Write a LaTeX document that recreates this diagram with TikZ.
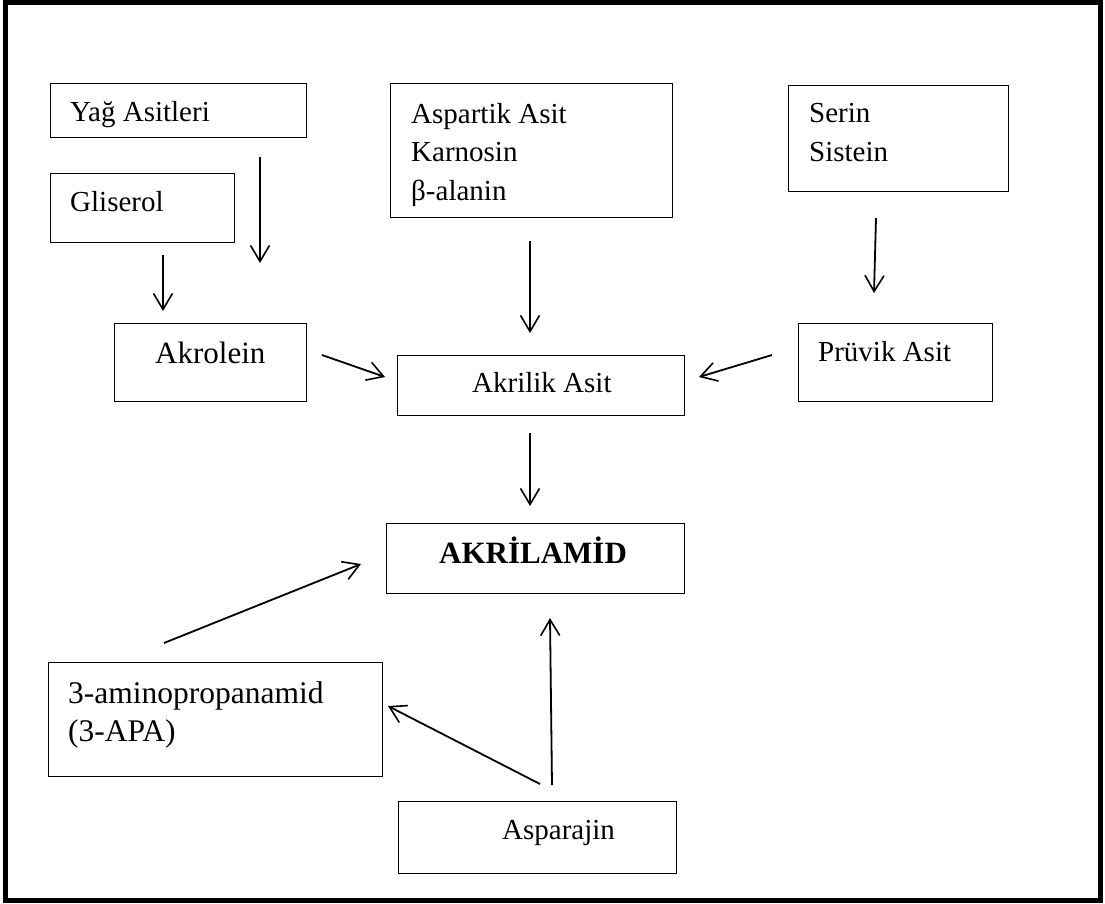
\documentclass[tikz,border=0pt]{standalone}
\usepackage{fontspec}
\setmainfont{Liberation Serif}
\usetikzlibrary{arrows.meta}

\begin{document}
\begin{tikzpicture}[x=1pt,y=-1pt,
    box/.style={draw=black,line width=1.3pt,inner sep=0pt,anchor=north west},
    txt/.style={inner sep=0pt,anchor=base west,align=left,
        font=\fontsize{29}{38.5}\selectfont},
    arr/.style={line width=1.8pt,-{Straight Barb[length=16pt,width=19pt,line width=1.6pt]}}]
    \useasboundingbox (0,0) rectangle (1105,903);
    \draw [black,line width=4.5pt] (5.5,2.5) rectangle (1100.5,900.5);
    \node [box,minimum width=256pt,minimum height=54pt] (yag) at (50,83) {};
    \node [txt] (yag-t) at (70,121) {Yağ Asitleri};
    \node [box,minimum width=184pt,minimum height=69pt] (gli) at (50,173) {};
    \node [txt] (gli-t) at (70,211) {Gliserol};
    \node [box,minimum width=282pt,minimum height=134pt] (asp) at (390,83) {};
    \node [txt] (asp-t) at (411,200) {Aspartik Asit\\Karnosin\\β-alanin};
    \node [box,minimum width=220pt,minimum height=106pt] (ser) at (788,85) {};
    \node [txt] (ser-t) at (809,161) {Serin\\Sistein};
    \node [box,minimum width=192pt,minimum height=78pt] (akro) at (114,323) {};
    \node [txt,font=\fontsize{31}{38}\selectfont] (akro-t) at (155,363) {Akrolein};
    \node [box,minimum width=287pt,minimum height=60pt] (akri) at (397,355) {};
    \node [txt] (akri-t) at (472,392) {Akrilik Asit};
    \node [box,minimum width=194pt,minimum height=78pt] (pru) at (798,323) {};
    \node [txt] (pru-t) at (818,361) {Prüvik Asit};
    \node [box,minimum width=298pt,minimum height=70pt] (akam) at (386,523) {};
    \node [txt,font=\fontsize{31}{38}\selectfont\bfseries] (akam-t) at (439,563) {AKRİLAMİD};
    \node [box,minimum width=334pt,minimum height=114pt] (apa) at (48,662) {};
    \node [txt,font=\fontsize{31.5}{38}\selectfont] (apa-t) at (68,741) {3-aminopropanamid\\(3-APA)};
    \node [box,minimum width=278pt,minimum height=72pt] (asn) at (398,801) {};
    \node [txt] (asn-t) at (502,839) {Asparajin};
    \coordinate (yag-a) at (260,157);
    \coordinate (yag-b) at (260,263);
    \coordinate (gli-a) at (163,255);
    \coordinate (gli-b) at (163,311);
    \coordinate (asp-a) at (530,241);
    \coordinate (asp-b) at (530,333);
    \coordinate (ser-a) at (876,218);
    \coordinate (ser-b) at (874,293);
    \coordinate (akro-a) at (322,355);
    \coordinate (akro-b) at (385,377);
    \coordinate (pru-a) at (772,355);
    \coordinate (pru-b) at (699,377);
    \coordinate (akri-a) at (530,433);
    \coordinate (akri-b) at (530,506);
    \coordinate (apa-a) at (164,643);
    \coordinate (apa-b) at (361,564);
    \coordinate (asn-a) at (552,785);
    \coordinate (asn-b) at (550,618);
    \coordinate (asn-c) at (540,784);
    \coordinate (asn-d) at (388,706);
    \draw [arr] (yag-a) -- (yag-b);
    \draw [arr] (gli-a) -- (gli-b);
    \draw [arr] (asp-a) -- (asp-b);
    \draw [arr] (ser-a) -- (ser-b);
    \draw [arr] (akro-a) -- (akro-b);
    \draw [arr] (pru-a) -- (pru-b);
    \draw [arr] (akri-a) -- (akri-b);
    \draw [arr] (apa-a) -- (apa-b);
    \draw [arr] (asn-a) -- (asn-b);
    \draw [arr] (asn-c) -- (asn-d);
\end{tikzpicture}
\end{document}
